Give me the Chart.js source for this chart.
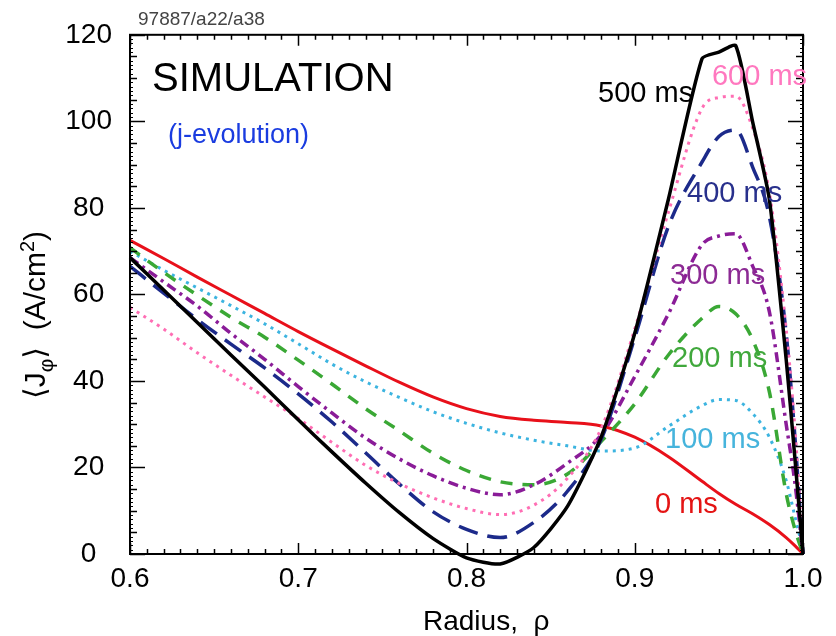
<!DOCTYPE html>
<html>
<head>
<meta charset="utf-8">
<script src="https://cdn.jsdelivr.net/npm/chart.js@4.4.1/dist/chart.umd.min.js"></script>
<style>
  html, body { margin: 0; padding: 0; background: #fff; }
</style>
</head>
<body>
<canvas id="chart" width="836" height="636"></canvas>
<script>
// radius grid (rho) shared by every profile
const radius = [0.60, 0.62, 0.64, 0.66, 0.68, 0.70, 0.72, 0.74, 0.76, 0.78, 0.80, 0.82, 0.84,
                0.86, 0.88, 0.90, 0.92, 0.94, 0.95, 0.96, 0.97, 0.98, 0.99, 0.995, 1.0];

// <J_phi> (A/cm2) at each time slice
const j0ms   = [72.5, 68.3, 64.0, 59.8, 55.6, 51.4, 47.4, 43.5, 39.7, 36.3, 33.6, 31.8, 30.9,
                30.4, 29.6, 27.0, 22.5, 16.8, 14.0, 11.5, 9.3, 6.8, 3.8, 2.0, 0];
const j100ms = [70.0, 65.6, 61.5, 57.4, 53.2, 48.6, 43.9, 39.8, 36.2, 32.9, 30.2, 28.0, 26.3,
                25.0, 23.8, 24.5, 29.5, 34.3, 35.7, 35.5, 32.5, 27.0, 17.0, 9.0, 1.0];
const j200ms = [70.8, 65.1, 59.8, 54.7, 50.1, 44.8, 39.3, 33.6, 28.5, 23.3, 19.3, 16.7, 16.0,
                18.5, 26.0, 34.7, 46.0, 54.5, 57.2, 55.5, 49.6, 37.5, 14.0, 6.0, 0];
const j300ms = [68.5, 62.9, 57.3, 51.0, 45.0, 38.7, 32.6, 26.8, 22.0, 18.1, 15.2, 13.7, 16.0,
                21.0, 27.5, 41.0, 55.5, 71.5, 73.5, 74.0, 66.6, 56.0, 30.0, 17.0, 0];
const j400ms = [66.5, 60.3, 54.2, 48.5, 43.0, 37.0, 30.5, 23.4, 16.2, 9.8, 5.7, 3.8, 7.3,
                14.5, 26.5, 50.0, 75.7, 90.6, 96.5, 98.0, 89.5, 78.0, 51.0, 28.0, 0];
const j500ms = [68.5, 61.0, 53.5, 46.0, 38.6, 31.0, 23.6, 16.4, 9.6, 3.6, -0.9, -2.3, 1.5,
                11.0, 27.0, 51.0, 82.0, 114.5, 116.0, 117.5, 100.0, 82.0, 45.0, 23.0, 0];
const j600ms = [57.0, 52.0, 46.5, 41.3, 36.3, 31.3, 25.8, 20.5, 16.3, 13.0, 10.5, 9.1, 11.3,
                17.5, 29.0, 52.0, 79.0, 103.0, 105.5, 105.8, 98.5, 83.5, 52.0, 30.0, 0];

const seriesNames = ['500 ms', '600 ms', '400 ms', '300 ms', '200 ms', '100 ms', '0 ms'];
const xTickLabels = ['0.6', '0.7', '0.8', '0.9', '1.0'];
const yTickLabels = ['0', '20', '40', '60', '80', '100', '120'];

const FONT = "'Liberation Sans', 'DejaVu Sans', sans-serif";

function points(values) {
    return radius.map((r, i) => ({x: r, y: values[i]}));
}

function profile(label, values, color, width, dash, tension) {
    return {
        label: label,
        data: points(values),
        borderColor: color,
        borderWidth: width,
        borderDash: dash,
        pointRadius: 0,
        fill: false,
        clip: false,
        tension: tension,
        cubicInterpolationMode: tension ? 'default' : 'monotone',
    };
}

// in-plot text: curve labels and annotation
const curveLabels = [
    {text: '500 ms', x: 0.8782, y: 104.4, color: '#000000', size: 29},
    {text: '600 ms', x: 0.9459, y: 108.3, color: '#ff78bf', size: 29},
    {text: '400 ms', x: 0.9311, y: 81.4, color: '#28308c', size: 29},
    {text: '300 ms', x: 0.9210, y: 62.3, color: '#8c2a94', size: 29},
    {text: '200 ms', x: 0.9222, y: 43.2, color: '#40a83c', size: 29},
    {text: '100 ms', x: 0.9180, y: 24.4, color: '#46b4dc', size: 29},
    {text: '0 ms', x: 0.9120, y: 9.4, color: '#e41414', size: 29},
    {text: 'SIMULATION', x: 0.6131, y: 107.1, color: '#000000', size: 40},
    {text: '(j-evolution)', x: 0.6226, y: 94.9, color: '#1a3ce0', size: 27},
];

const framePlugin = {
    id: 'frame',
    afterDatasetsDraw(chart) {
        const {ctx, chartArea: a, scales: {x, y}} = chart;
        ctx.save();
        ctx.strokeStyle = '#000';
        // x ticks, bottom and top, pointing inward
        ctx.lineWidth = 1.5;
        ctx.beginPath();
        for (let k = 0; k <= 40; k++) {
            const px = Math.round(x.getPixelForValue(0.6 + k * 0.01)) + 0.5;
            const len = k % 10 === 0 ? 11 : 5;
            ctx.moveTo(px, a.bottom); ctx.lineTo(px, a.bottom - len);
            ctx.moveTo(px, a.top); ctx.lineTo(px, a.top + len);
        }
        // y ticks, left and right
        for (let v = 0; v <= 120; v += 5) {
            const py = Math.round(y.getPixelForValue(v)) + 0.5;
            const len = v % 20 === 0 ? 15 : 7;
            ctx.moveTo(a.left, py); ctx.lineTo(a.left + len, py);
            ctx.moveTo(a.right, py); ctx.lineTo(a.right - len, py);
        }
        ctx.stroke();
        ctx.lineWidth = 1;
        ctx.beginPath();
        for (let v = 1; v < 120; v++) {
            if (v % 5 === 0) continue;
            const py = Math.round(y.getPixelForValue(v)) + 0.5;
            ctx.moveTo(a.left, py); ctx.lineTo(a.left + 3, py);
            ctx.moveTo(a.right, py); ctx.lineTo(a.right - 3, py);
        }
        ctx.stroke();
        ctx.lineWidth = 2;
        ctx.strokeRect(a.left, a.top, a.right - a.left, a.bottom - a.top);
        ctx.restore();
    },
    afterDraw(chart) {
        const {ctx, chartArea: a, scales: {x, y}} = chart;
        ctx.save();
        ctx.textBaseline = 'alphabetic';
        ctx.textAlign = 'left';
        curveLabels.forEach((l) => {
            ctx.font = l.size + 'px ' + FONT;
            ctx.fillStyle = l.color;
            ctx.fillText(l.text, x.getPixelForValue(l.x), y.getPixelForValue(l.y));
        });

        // shot id above the frame
        ctx.font = '19px ' + FONT;
        ctx.fillStyle = '#444';
        ctx.fillText('97887/a22/a38', a.left + 8, a.top - 10);

        // x axis title
        ctx.font = '28px ' + FONT;
        ctx.fillStyle = '#000';
        ctx.fillText('Radius,  \u03c1', 423, 630);

        // y axis title, rotated, with sub/superscript
        const parts = [
            {t: '\u27e8J', size: 30, dy: 0},
            {t: '\u03c6', size: 21, dy: 8},
            {t: '\u27e9  (A/cm', size: 30, dy: 0},
            {t: '2', size: 20, dy: -11},
            {t: ')', size: 30, dy: 0},
        ];
        let total = 0;
        parts.forEach((p) => {
            ctx.font = p.size + 'px ' + FONT;
            p.w = ctx.measureText(p.t).width;
            total += p.w;
        });
        ctx.translate(45, 315);
        ctx.rotate(-Math.PI / 2);
        let cx = -total / 2;
        parts.forEach((p) => {
            ctx.font = p.size + 'px ' + FONT;
            ctx.fillText(p.t, cx, p.dy);
            cx += p.w;
        });
        ctx.restore();
    }
};

new Chart(document.getElementById('chart'), {
    type: 'line',
    data: {
        datasets: [
            profile(seriesNames[0], j500ms, '#000000', 3.5, [], 0.2),
            profile(seriesNames[1], j600ms, '#ff6eb4', 3, [3, 5], 0),
            profile(seriesNames[2], j400ms, '#1c2a8a', 3.5, [20, 10], 0),
            profile(seriesNames[3], j300ms, '#8a1c98', 3.5, [10, 5, 3, 5], 0),
            profile(seriesNames[4], j200ms, '#3aa835', 3.5, [12, 10], 0),
            profile(seriesNames[5], j100ms, '#3cb4e0', 3, [3, 5], 0),
            profile(seriesNames[6], j0ms, '#e8101a', 3, [], 0),
        ]
    },
    options: {
        responsive: false,
        animation: false,
        devicePixelRatio: 1,
        layout: {
            padding: {top: 33, right: 33, left: 0, bottom: 0}
        },
        scales: {
            x: {
                type: 'linear',
                min: 0.6,
                max: 1.0,
                afterFit: (scale) => { scale.height = 82; },
                grid: {display: false, drawTicks: false},
                border: {display: false},
                ticks: {
                    stepSize: 0.1,
                    padding: 8,
                    color: '#000',
                    font: {family: FONT, size: 28},
                    callback: (value, index) => xTickLabels[index]
                }
            },
            y: {
                type: 'linear',
                min: 0,
                max: 120,
                afterFit: (scale) => { scale.width = 130; },
                grid: {display: false, drawTicks: false},
                border: {display: false},
                ticks: {
                    stepSize: 20,
                    padding: 18,
                    crossAlign: 'center',
                    color: '#000',
                    font: {family: FONT, size: 28},
                    callback: (value, index) => yTickLabels[index]
                }
            }
        },
        plugins: {
            legend: {display: false},
            tooltip: {enabled: false}
        }
    },
    plugins: [framePlugin]
});
</script>
</body>
</html>
